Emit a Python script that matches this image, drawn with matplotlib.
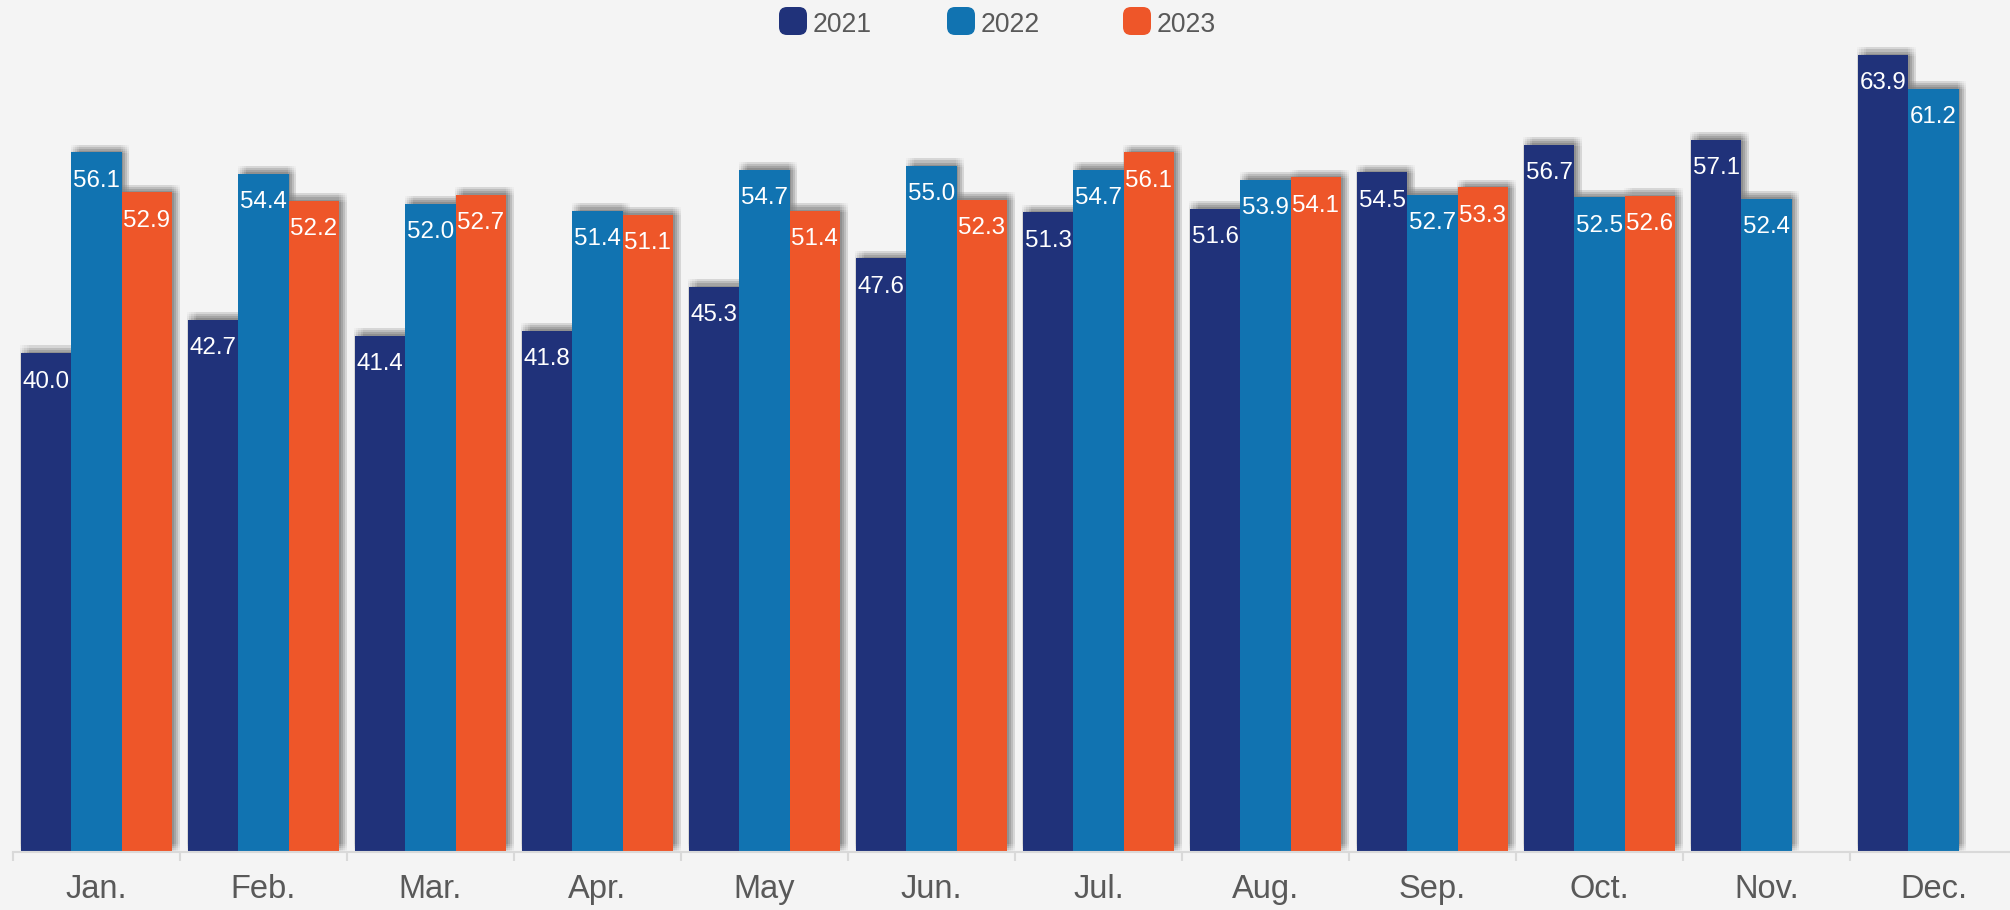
# -*- coding: utf-8 -*-

import numpy as np
import matplotlib
matplotlib.use("Agg")
import matplotlib.pyplot as plt
from matplotlib import patheffects as pe
from matplotlib.patches import FancyBboxPatch

plt.rcParams['font.family'] = ['Liberation Sans', 'DejaVu Sans']

''' 数据 '''
months = ["Jan.", "Feb.", "Mar.", "Apr.", "May", "Jun.",
          "Jul.", "Aug.", "Sep.", "Oct.", "Nov.", "Dec."]
series_names = ["2021", "2022", "2023"]
values_2021 = [40.0, 42.7, 41.4, 41.8, 45.3, 47.6, 51.3, 51.6, 54.5, 56.7, 57.1, 63.9]
values_2022 = [56.1, 54.4, 52.0, 51.4, 54.7, 55.0, 54.7, 53.9, 52.7, 52.5, 52.4, 61.2]
values_2023 = [52.9, 52.2, 52.7, 51.1, 51.4, 52.3, 56.1, 54.1, 53.3, 52.6, np.nan, np.nan]
colors = ["#20327a", "#1173b1", "#ee5629"]

all_values = [values_2021, values_2022, values_2023]

''' 画布 '''
W, H = 2010, 910
bg = "#f4f4f4"
fig = plt.figure(figsize=(W / 100, H / 100), dpi=100, facecolor=bg)
# 坐标区: 底线在 y=852px, 左边 13px, 每个类别约 167px
ax = fig.add_axes([13 / W, 58 / H, 2004 / W, 852 / H])
ax.set_facecolor(bg)
ax.set_xlim(0, len(months))
ax.set_ylim(0, 852 / 12.47)

# 模糊阴影: 围绕 (2.6, 2.6)pt 的偏移叠加多层
spread = (-3.0, -1.5, 0.0, 1.5, 3.0)
shadow_only = [pe.SimplePatchShadow(offset=(2.6 + dx, 2.6 + dy), shadow_rgbFace="black", alpha=0.025)
               for dx in spread for dy in spread]

bar_w = 0.302
x = np.arange(len(months)) + 0.5

# 先画所有阴影, 再画柱子
for k, vals in enumerate(all_values):
    pos = x + (k - 1) * bar_w
    vals = np.array(vals, dtype=float)
    ok = ~np.isnan(vals)
    sh = ax.bar(pos[ok], vals[ok], width=bar_w, color="black", linewidth=0, zorder=1)
    for b in sh:
        b.set_path_effects(shadow_only)

for k, (name, vals, c) in enumerate(zip(series_names, all_values, colors)):
    pos = x + (k - 1) * bar_w
    vals = np.array(vals, dtype=float)
    ok = ~np.isnan(vals)
    ax.bar(pos[ok], vals[ok], width=bar_w, color=c, linewidth=0, zorder=2)
    # 数据标签
    for px, v in zip(pos[ok], vals[ok]):
        ax.annotate("%.1f" % v, xy=(px, v), xytext=(0, -24.7), textcoords="offset points",
                    ha="center", va="baseline", color="white", fontsize=17.4, zorder=3)

''' 坐标轴 '''
for s in ["left", "right", "top"]:
    ax.spines[s].set_visible(False)
ax.spines["bottom"].set_color("#d9d9d9")
ax.spines["bottom"].set_linewidth(1.5)
ax.spines["bottom"].set_zorder(4)
ax.set_yticks([])
ax.set_xticks(np.arange(len(months) + 1))
ax.set_xticklabels([])
ax.tick_params(axis="x", which="major", length=6.5, width=1.5, color="#d9d9d9", direction="out")
ax.set_xticks(x, minor=True)
ax.set_xticklabels(months, minor=True)
ax.tick_params(axis="x", which="minor", length=0, pad=15.5, labelsize=23.5, labelcolor="#595959")

''' 图例 '''
legend_left = [779, 947, 1123]
for name, c, lx in zip(series_names, colors, legend_left):
    box = FancyBboxPatch((lx / W, (H - 35) / H), 28 / W, 28 / H,
                         boxstyle="round,pad=0,rounding_size=0.004",
                         transform=fig.transFigure, facecolor=c, edgecolor="none",
                         mutation_aspect=W / H)
    fig.patches.append(box)
    fig.text((lx + 34) / W, (H - 31.7) / H, name, ha="left", va="baseline",
             fontsize=19.1, color="#595959")

fig.savefig("out.png", dpi=100, facecolor=bg)
